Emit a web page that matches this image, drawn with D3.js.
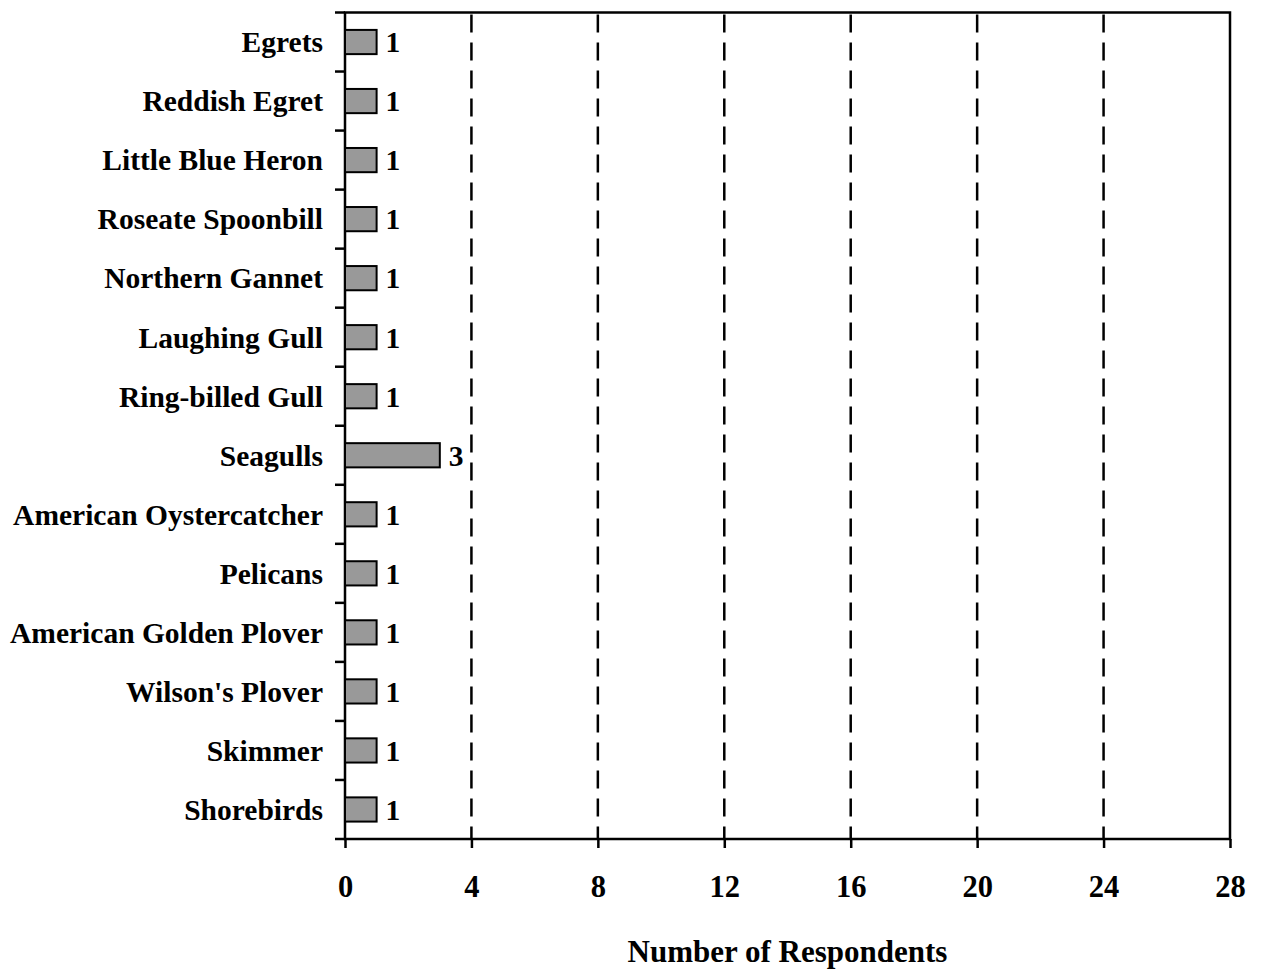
<!DOCTYPE html>
<html><head><meta charset="utf-8">
<script src="https://cdn.jsdelivr.net/npm/d3@7"></script>
<style>body{margin:0;background:#fff}svg{display:block}</style>
</head><body>
<script>
const categories = ["Egrets","Reddish Egret","Little Blue Heron","Roseate Spoonbill","Northern Gannet","Laughing Gull","Ring-billed Gull","Seagulls","American Oystercatcher","Pelicans","American Golden Plover","Wilson's Plover","Skimmer","Shorebirds"];
const values = [1,1,1,1,1,1,1,3,1,1,1,1,1,1];
const xTicks = [0,4,8,12,16,20,24,28];
const xTitle = "Number of Respondents";

const W = 1261, H = 973;
const m = {left:345, right:31, top:12.5, bottom:134};
const svg = d3.select("body").append("svg").attr("width",W).attr("height",H);
const font = "'Liberation Serif','Times New Roman',serif";
const fs = 29.5;
const x = d3.scaleLinear().domain([0,28]).range([m.left, W-m.right]);
const y = d3.scaleBand().domain(categories).range([m.top, H-m.bottom]).paddingInner(0.59).paddingOuter(0.295);
const y0 = m.top, y1 = H-m.bottom;

// gridlines
svg.append("g").selectAll("line").data(xTicks.filter(t=>t>0 && t<28)).join("line")
  .attr("x1",d=>x(d)).attr("x2",d=>x(d)).attr("y1",y0).attr("y2",y1)
  .attr("stroke","#000").attr("stroke-width",2.5).attr("stroke-dasharray","18,10").attr("stroke-dashoffset",-2);

// frame
svg.append("rect").attr("x",x(0)).attr("y",y0).attr("width",x(28)-x(0)).attr("height",y1-y0)
  .attr("fill","none").attr("stroke","#000").attr("stroke-width",2.5);

// bars
svg.append("g").selectAll("rect").data(values).join("rect")
  .attr("x",x(0)).attr("y",(d,i)=>y(categories[i])).attr("width",d=>x(d)-x(0)).attr("height",y.bandwidth())
  .attr("fill","#999999").attr("stroke","#000").attr("stroke-width",2);

// value labels
svg.append("g").selectAll("text").data(values).join("text")
  .attr("x",d=>x(d)+9).attr("y",(d,i)=>y(categories[i])+y.bandwidth()/2).attr("dy","0.35em")
  .attr("font-family",font).attr("font-weight","bold").attr("font-size",fs).text(d=>d);

// y axis ticks at band boundaries
const step = (y1-y0)/categories.length;
const bounds = d3.range(categories.length+1).map(i=>y0+i*step);
svg.append("g").selectAll("line").data(bounds).join("line")
  .attr("x1",x(0)-10).attr("x2",x(0)).attr("y1",d=>d).attr("y2",d=>d)
  .attr("stroke","#000").attr("stroke-width",2.5);

// category labels
svg.append("g").selectAll("text").data(categories).join("text")
  .attr("x",x(0)-22).attr("y",d=>y(d)+y.bandwidth()/2).attr("dy","0.35em").attr("text-anchor","end")
  .attr("font-family",font).attr("font-weight","bold").attr("font-size",fs).text(d=>d);

// x axis
const xa = svg.append("g").attr("transform",`translate(0,${y1})`)
  .call(d3.axisBottom(x).tickValues(xTicks).tickSize(9).tickPadding(27).tickFormat(d3.format("d")));
xa.select(".domain").remove();
xa.selectAll("line").attr("stroke","#000").attr("stroke-width",2.5);
xa.selectAll("text").attr("font-family",font).attr("font-weight","bold").attr("font-size",30.5).attr("fill","#000");

svg.append("text").attr("x",(x(0)+x(28))/2).attr("y",962).attr("text-anchor","middle")
  .attr("font-family",font).attr("font-weight","bold").attr("font-size",31).text(xTitle);
</script>
</body></html>
